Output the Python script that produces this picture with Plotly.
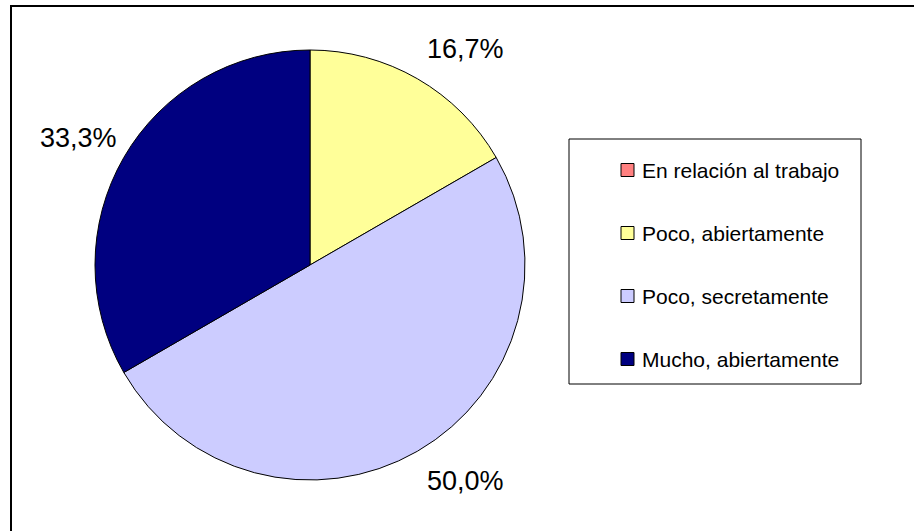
import math
import plotly.graph_objects as go

# ---- data ----
categories = ["En relación al trabajo", "Poco, abiertamente", "Poco, secretamente", "Mucho, abiertamente"]
values = [0, 1, 3, 2]
colors = ["#FF8080", "#FFFF99", "#CCCCFF", "#000080"]

W, H = 914, 531
FONT = "Liberation Sans, Arial, sans-serif"

# pie geometry in pixels (screen coordinates)
cx, cy, R = 310, 265, 215


def px(x):
    return x / W


def py(y):
    return 1 - y / H


fig = go.Figure()
fig.add_trace(go.Pie(
    labels=categories,
    values=values,
    sort=False,
    direction="clockwise",
    rotation=0,
    marker=dict(colors=colors, line=dict(color="black", width=1)),
    textinfo="none",
    hoverinfo="label+percent",
    showlegend=False,
    domain=dict(x=[px(cx - R), px(cx + R)], y=[py(cy + R), py(cy - R)]),
))

annotations = []
shapes = []

# percentage labels outside slices
total = sum(values)
cum = 0
for v in values:
    if v > 0:
        mid = (cum + v / 2) / total * 2 * math.pi
        s, c = math.sin(mid), math.cos(mid)
        r = R * (1.07 if s > 0 else 1.025)
        ax = cx + r * s
        ay = cy - r * c
        txt = f"{v / total * 100:.1f}%".replace(".", ",")
        annotations.append(dict(
            x=px(ax), y=py(ay), xref="paper", yref="paper",
            text=txt, showarrow=False,
            xanchor="left" if s > 0 else "right",
            yanchor="bottom" if c > 0 else "top",
            font=dict(family=FONT, size=27, color="black"),
        ))
    cum += v

# legend box
lx0, ly0, lx1, ly1 = 569, 139, 861, 384
shapes.append(dict(type="rect", xref="paper", yref="paper",
                   x0=px(lx0), x1=px(lx1), y0=py(ly1), y1=py(ly0),
                   line=dict(color="black", width=1), fillcolor="white", layer="below"))
item_y0, item_gap = 170, 63
for i, (cat, col) in enumerate(zip(categories, colors)):
    yc = item_y0 + i * item_gap
    shapes.append(dict(type="rect", xref="paper", yref="paper",
                       x0=px(621), x1=px(634), y0=py(yc + 6.5), y1=py(yc - 6.5),
                       line=dict(color="black", width=1), fillcolor=col))
    annotations.append(dict(
        x=px(640), y=py(yc), xref="paper", yref="paper",
        text=cat, showarrow=False, xanchor="left", yanchor="middle",
        font=dict(family=FONT, size=21, color="black"),
    ))

# outer chart border: only the top and left edges are inside the view
shapes.append(dict(type="line", xref="paper", yref="paper",
                   x0=px(10), x1=1, y0=py(6), y1=py(6),
                   line=dict(color="black", width=2)))
shapes.append(dict(type="line", xref="paper", yref="paper",
                   x0=px(11), x1=px(11), y0=py(5), y1=0,
                   line=dict(color="black", width=2)))

fig.update_layout(
    width=W, height=H,
    margin=dict(l=0, r=0, t=0, b=0),
    paper_bgcolor="white",
    plot_bgcolor="white",
    showlegend=False,
    annotations=annotations,
    shapes=shapes,
    font=dict(family=FONT),
)

fig.write_html(
    "out.html",
    config={"displayModeBar": False},
    post_script="document.body.style.margin='0';document.body.style.overflow='hidden';",
)
